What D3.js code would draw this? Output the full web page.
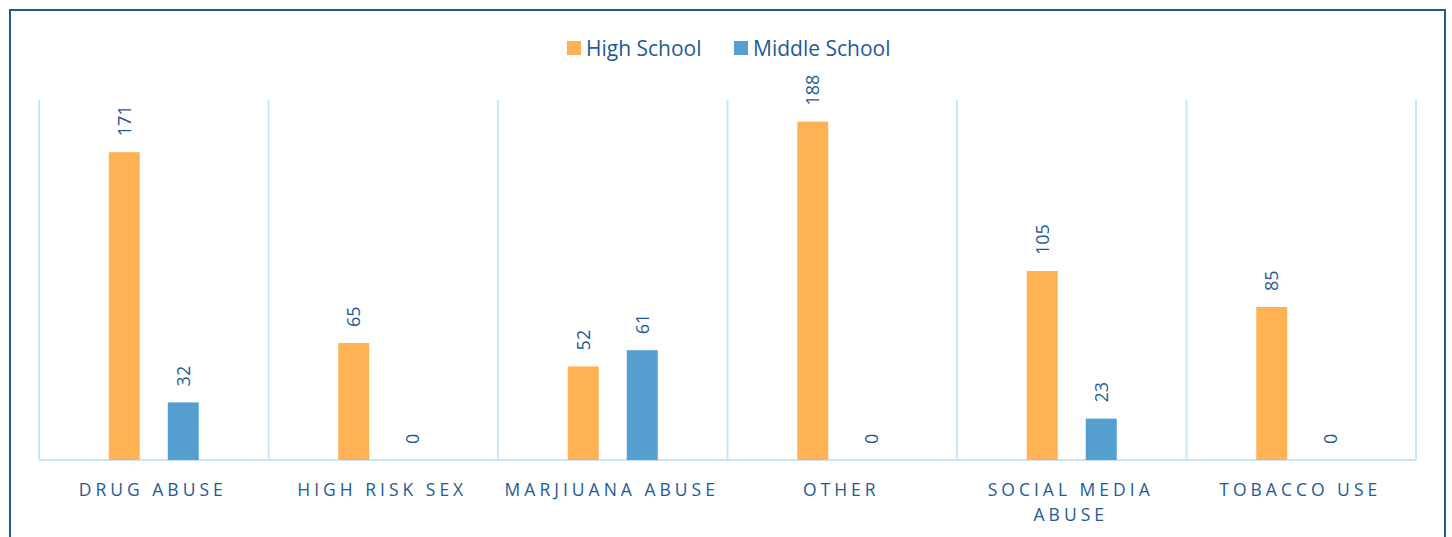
<!DOCTYPE html>
<html>
<head>
<meta charset="utf-8">
<script src="https://cdn.jsdelivr.net/npm/d3@7"></script>
<style>
  html, body { margin: 0; padding: 0; background: #fff; }
  svg { display: block; font-family: "Open Sans", sans-serif; }
</style>
</head>
<body>
<svg id="chart"></svg>
<script>
// chart data
var categories = ["DRUG ABUSE", "HIGH RISK SEX", "MARJIUANA ABUSE", "OTHER", "SOCIAL MEDIA\nABUSE", "TOBACCO USE"];
var seriesNames = ["High School", "Middle School"];
var highSchool = [171, 65, 52, 188, 105, 85];
var middleSchool = [32, 0, 61, 0, 23, 0];

var colors = ["#FFB253", "#559FD0"];
var textColor = "#1F5A96";
var gridColor = "#CBE4F8";

var width = 1452, height = 537;
var svg = d3.select("#chart").attr("width", width).attr("height", height);

// outer frame
svg.append("rect")
    .attr("x", 10).attr("y", 10)
    .attr("width", 1435).attr("height", 560)
    .attr("fill", "none")
    .attr("stroke", textColor)
    .attr("stroke-width", 2);

var plot = { left: 39, right: 1416, top: 100, bottom: 460 };

var x0 = d3.scaleBand()
    .domain(d3.range(categories.length))
    .range([plot.left, plot.right])
    .padding(0);

var x1 = d3.scaleBand()
    .domain(seriesNames)
    .range([0, 90])
    .paddingInner(0.475)
    .paddingOuter(0);

var y = d3.scaleLinear()
    .domain([0, 200])
    .range([plot.bottom, plot.top]);

// vertical category separators
var seps = d3.range(categories.length + 1).map(function(i) {
    return i < categories.length ? x0(i) : plot.right;
});
svg.append("g").selectAll("line")
    .data(seps)
    .enter().append("line")
    .attr("x1", function(d) { return d; })
    .attr("x2", function(d) { return d; })
    .attr("y1", plot.top)
    .attr("y2", plot.bottom)
    .attr("stroke", gridColor)
    .attr("stroke-width", 2);

// baseline
svg.append("line")
    .attr("x1", plot.left).attr("x2", plot.right)
    .attr("y1", plot.bottom).attr("y2", plot.bottom)
    .attr("stroke", gridColor)
    .attr("stroke-width", 2);

var rows = categories.map(function(c, i) {
    return [
        { s: seriesNames[0], v: highSchool[i], i: i, k: 0 },
        { s: seriesNames[1], v: middleSchool[i], i: i, k: 1 }
    ];
});

var group = svg.append("g").selectAll("g")
    .data(rows)
    .enter().append("g")
    .attr("transform", function(d, i) {
        return "translate(" + (x0(i) + x0.bandwidth() / 2 - 45) + ",0)";
    });

group.selectAll("rect")
    .data(function(d) { return d; })
    .enter().append("rect")
    .attr("x", function(d) { return x1(d.s); })
    .attr("width", x1.bandwidth())
    .attr("y", function(d) { return y(d.v); })
    .attr("height", function(d) { return plot.bottom - y(d.v); })
    .attr("fill", function(d) { return colors[d.k]; });

// rotated data labels
group.selectAll("text")
    .data(function(d) { return d; })
    .enter().append("text")
    .attr("transform", function(d) {
        var cx = x1(d.s) + x1.bandwidth() / 2;
        return "translate(" + cx + "," + (y(d.v) - 16) + ") rotate(-90)";
    })
    .attr("dy", "0.36em")
    .attr("fill", textColor)
    .style("font-size", "18px")
    .text(function(d) { return d.v; });

// category labels
var catLabels = svg.append("g").selectAll("text")
    .data(categories)
    .enter().append("text")
    .attr("x", function(d, i) { return x0(i) + x0.bandwidth() / 2; })
    .attr("y", 495.5)
    .attr("text-anchor", "middle")
    .attr("fill", textColor)
    .style("font-size", "17.5px")
    .style("letter-spacing", "4px");

catLabels.each(function(d) {
    var t = d3.select(this);
    var cx = +t.attr("x");
    d.split("\n").forEach(function(line, j) {
        t.append("tspan")
            .attr("x", cx - 1)
            .attr("dy", j === 0 ? 0 : 25.5)
            .text(line);
    });
});

// legend
var legendItems = [
    { name: seriesNames[0], color: colors[0], x: 567 },
    { name: seriesNames[1], color: colors[1], x: 734 }
];
var legend = svg.append("g").selectAll("g")
    .data(legendItems)
    .enter().append("g")
    .attr("transform", function(d) { return "translate(" + d.x + ",41)"; });

legend.append("rect")
    .attr("width", 14).attr("height", 14)
    .attr("fill", function(d) { return d.color; });

legend.append("text")
    .attr("x", 19)
    .attr("y", 14.5)
    .attr("fill", textColor)
    .style("font-size", "21px")
    .text(function(d) { return d.name; });
</script>
</body>
</html>
